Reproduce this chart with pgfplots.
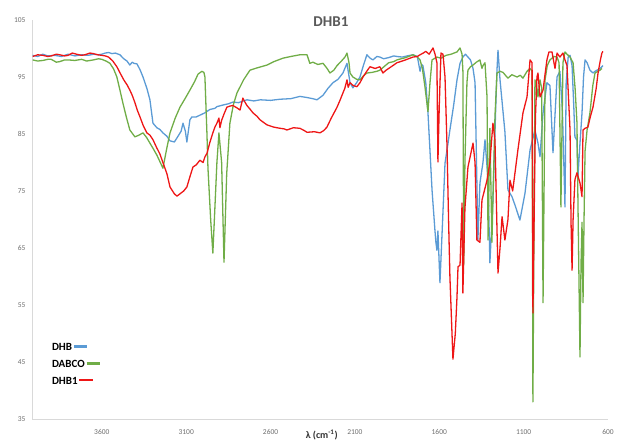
\documentclass[border=0pt]{standalone}
\usepackage{fontspec}
\setmainfont{Carlito}
\usepackage{pgfplots}
\pgfplotsset{compat=1.18}

\definecolor{dhbblue}{RGB}{91,155,213}
\definecolor{dabcogreen}{RGB}{112,173,71}
\definecolor{dhbred}{RGB}{238,22,22}
\definecolor{ticktext}{RGB}{110,110,110}
\definecolor{titletext}{RGB}{89,89,89}

% short coloured bar placed right after each legend text
\newcommand{\keybar}[1]{\,\textcolor{#1}{\rule[0.28em]{13pt}{2.4pt}}}

\begin{document}
\begin{tikzpicture}
\begin{axis}[
  scale only axis,
  width=576pt, height=399pt,
  x dir=reverse,
  xmin=600, xmax=4014,
  ymin=35, ymax=105,
  xtick={600,1100,1600,2100,2600,3100,3600},
  ytick={35,45,55,65,75,85,95,105},
  axis x line*=bottom, axis y line*=left,
  axis line style={draw=gray!30, line width=0.8pt, -},
  major tick length=0pt,
  /pgf/number format/assume math mode=true,
  /pgf/number format/.cd, 1000 sep={}, /pgfplots/.cd,
  tick label style={font=\fontsize{7.5}{8}\selectfont, text=ticktext},
  xticklabel style={yshift=-7pt},
  yticklabel style={xshift=-3pt},
  title={DHB1},
  title style={at={(rel axis cs:0.519,0.98)}, anchor=center,
    font=\fontsize{15}{17}\selectfont\bfseries, text=titletext},
  xlabel={λ (cm\textsuperscript{-1})},
  xlabel style={at={(rel axis cs:0.503,0)}, anchor=center, yshift=-16pt,
    font=\fontsize{10}{12}\selectfont\bfseries, text=black!80},
  legend plot pos=none,
  legend cell align=left,
  legend style={at={(rel axis cs:0.031,0.194)}, anchor=north west, draw=none,
    fill=none, font=\fontsize{11}{13}\selectfont\bfseries, row sep=4pt,
    inner sep=0pt},
  every axis plot/.append style={line width=1.3pt, line join=round},
]
\coordinate (o) at (rel axis cs:0,0);

% DHB
\addplot[color=dhbblue] coordinates {
(4010,98.8) (3980,98.6) (3950,99.0) (3920,98.7) (3880,98.8) (3840,98.6) (3800,99.0)
(3760,98.7) (3720,98.9) (3680,98.8) (3650,99.0) (3620,98.9) (3600,99.0) (3580,99.2)
(3560,99.3) (3540,99.1) (3520,99.2) (3493,98.9) (3470,98.2) (3451,97.8) (3434,97.1)
(3420,97.6) (3410,97.4) (3392,97.3) (3374,96.3) (3356,95.0) (3333,93.0) (3315,91.0)
(3297,86.9) (3274,86.1) (3256,85.8) (3238,85.2) (3214,84.6) (3196,83.8) (3170,83.6)
(3155,84.3) (3130,85.5) (3119,86.9) (3105,85.5) (3096,83.6) (3078,87.5) (3066,88.0)
(3040,88.0) (3019,88.3) (2990,88.7) (2960,89.3) (2930,89.5) (2918,89.8) (2880,90.1)
(2850,90.3) (2823,90.6) (2790,90.5) (2740,91.0) (2700,90.8) (2660,91.0) (2600,90.9)
(2544,91.1) (2480,91.2) (2426,91.6) (2384,91.4) (2350,91.2) (2325,91.0) (2289,91.8)
(2260,93.0) (2230,94.0) (2200,94.6) (2171,95.7) (2147,97.4) (2129,94.0) (2112,93.1)
(2090,94.0) (2070,95.0) (2050,97.0) (2029,98.9) (2010,98.3) (1993,98.0) (1970,98.6)
(1952,98.5) (1930,98.2) (1900,98.4) (1870,98.7) (1851,98.6) (1820,98.5) (1790,98.7)
(1756,98.9) (1730,98.6) (1714,96.0) (1705,97.2) (1697,97.0) (1680,94.0) (1667,88.7)
(1655,82.0) (1643,75.2) (1626,68.2) (1620,66.0) (1614,64.6) (1608,68.0) (1596,58.9)
(1580,70.0) (1566,79.9) (1550,83.0) (1537,85.7) (1515,90.0) (1495,94.5) (1477,97.4)
(1460,98.5) (1445,99.0) (1430,98.5) (1415,98.0) (1400,96.5) (1388,94.0) (1377,76.4)
(1371,66.4) (1359,76.4) (1341,80.0) (1329,84.0) (1311,76.9) (1300,62.4) (1282,73.4)
(1265,90.0) (1258,96.2) (1252,99.7) (1240,94.5) (1211,85.4) (1193,75.2) (1169,74.0)
(1151,72.5) (1122,69.9) (1092,74.6) (1062,82.2) (1033,85.7) (1015,83.4) (1003,81.0)
(985,88.7) (962,94.0) (944,93.5) (926,81.7) (902,95.0) (885,96.0) (870,89.0)
(855,72.2) (848,94.0) (836,98.5) (825,98.8) (813,97.0) (803,90.0) (796,84.5)
(784,83.9) (778,77.5) (766,83.4) (754,88.7) (745,95.0) (736,98.0) (724,97.5)
(707,96.2) (689,95.7) (677,96.0) (659,96.3) (647,96.5) (636,96.8) (630,97.0)
};
\addlegendentry{DHB\keybar{dhbblue}}

% DABCO
\addplot[color=dabcogreen] coordinates {
(4010,98.0) (3980,97.8) (3950,97.9) (3920,98.1) (3900,98.1) (3870,97.6) (3850,97.7)
(3820,98.0) (3800,98.0) (3760,97.9) (3720,98.1) (3690,97.8) (3650,98.0) (3620,98.2)
(3600,98.1) (3575,97.8) (3552,97.4) (3530,96.4) (3511,95.0) (3495,93.0) (3475,90.4)
(3455,88.0) (3434,85.7) (3404,84.5) (3380,84.8) (3356,85.2) (3335,84.4) (3315,83.4)
(3295,82.4) (3274,81.3) (3255,80.1) (3238,79.0) (3215,82.5) (3196,85.2) (3165,87.8)
(3137,89.7) (3105,91.3) (3078,92.7) (3050,94.2) (3030,95.5) (3007,96.0) (2995,95.8)
(2989,95.0) (2977,85.0) (2971,79.0) (2955,70.0) (2942,64.1) (2930,72.0) (2918,80.0)
(2906,85.2) (2890,80.0) (2876,62.5) (2860,78.0) (2841,86.9) (2820,90.2) (2799,92.2)
(2760,94.5) (2722,96.2) (2680,96.6) (2621,97.1) (2580,97.7) (2527,98.3) (2480,98.6)
(2426,98.9) (2384,98.9) (2367,97.4) (2349,97.6) (2320,97.2) (2289,97.4) (2265,96.5)
(2248,95.7) (2225,96.2) (2206,97.0) (2180,97.8) (2159,98.5) (2147,99.2) (2135,97.5)
(2129,95.7) (2112,95.0) (2090,94.6) (2070,94.5) (2050,95.2) (2029,95.7) (2000,95.8)
(1970,96.0) (1952,96.2) (1920,97.0) (1900,97.5) (1870,97.7) (1851,98.0) (1800,98.4)
(1756,98.9) (1730,98.5) (1714,98.0) (1700,96.5) (1685,93.3) (1667,88.9) (1655,94.0)
(1643,98.0) (1614,98.5) (1590,98.3) (1560,98.8) (1530,99.0) (1495,99.4) (1477,100.1)
(1465,99.0) (1460,96.0) (1455,62.0) (1448,80.0) (1436,94.0) (1430,96.2) (1415,96.8)
(1400,97.1) (1380,97.6) (1359,98.0) (1347,96.5) (1341,97.0) (1329,97.5) (1317,91.5)
(1311,66.4) (1300,86.0) (1288,66.0) (1270,88.0) (1258,95.7) (1240,96.0) (1222,95.8)
(1205,95.2) (1193,94.8) (1170,95.4) (1139,95.0) (1120,95.3) (1104,94.8) (1080,96.0)
(1062,96.5) (1050,96.0) (1045,38.0) (1033,94.5) (1021,93.0) (1015,91.5) (1003,94.5)
(993,93.0) (985,55.4) (973,94.5) (960,97.0) (944,98.0) (920,98.6) (902,98.5)
(890,97.5) (879,72.2) (867,97.5) (855,99.4) (843,99.0) (825,98.5) (807,97.5)
(795,93.0) (784,87.0) (778,72.9) (766,45.9) (760,62.0) (754,69.5) (748,55.4)
(742,70.0) (736,82.0) (724,85.7) (707,88.7) (690,93.5) (677,95.7) (660,96.0)
(647,96.2) (636,96.5)
};
\addlegendentry{DABCO\keybar{dabcogreen}}

% DHB1
\addplot[color=dhbred] coordinates {
(4010,98.6) (3980,98.9) (3950,98.8) (3920,98.6) (3900,98.7) (3870,99.0) (3850,98.9)
(3820,98.7) (3800,98.8) (3775,99.2) (3750,99.0) (3720,98.8) (3700,98.9) (3670,99.2)
(3650,99.1) (3625,98.9) (3600,98.8) (3580,98.7) (3560,98.5) (3535,97.8) (3511,96.8)
(3490,95.6) (3470,94.5) (3450,93.6) (3434,92.7) (3420,91.8) (3404,90.5) (3390,89.2)
(3374,88.0) (3355,86.5) (3333,85.2) (3315,84.8) (3297,84.0) (3275,82.6) (3256,81.5)
(3238,80.0) (3214,78.0) (3196,75.7) (3170,74.5) (3155,74.1) (3137,74.5) (3115,75.0)
(3096,75.7) (3078,77.5) (3060,79.2) (3040,79.6) (3019,80.4) (3000,80.0) (2989,81.0)
(2977,81.6) (2960,83.5) (2942,85.2) (2930,86.2) (2918,86.9) (2906,87.8) (2900,86.1)
(2890,87.4) (2876,88.5) (2859,89.7) (2840,89.9) (2823,90.0) (2800,89.6) (2781,89.2)
(2764,91.3) (2752,90.6) (2740,90.0) (2720,89.3) (2704,88.7) (2680,88.1) (2663,87.5)
(2640,87.0) (2621,86.6) (2580,86.2) (2544,86.0) (2520,85.9) (2503,85.7) (2465,86.1)
(2426,86.0) (2400,85.6) (2384,85.3) (2340,85.4) (2307,85.2) (2285,85.6) (2266,86.2)
(2240,87.8) (2206,89.7) (2190,90.8) (2171,92.2) (2160,93.0) (2147,94.5) (2140,93.2)
(2129,94.0) (2110,93.5) (2088,93.3) (2070,94.0) (2052,95.0) (2030,96.0) (2011,96.8)
(1980,96.5) (1952,96.8) (1934,95.7) (1915,96.2) (1900,96.5) (1875,97.0) (1851,97.5)
(1800,98.0) (1756,98.5) (1730,98.6) (1714,98.9) (1695,99.2) (1680,99.5) (1660,99.0)
(1637,100.1) (1625,99.0) (1614,97.5) (1608,80.1) (1600,90.0) (1590,99.2) (1578,99.0)
(1566,95.0) (1554,82.7) (1545,70.0) (1537,60.0) (1519,45.5) (1505,50.0) (1495,56.4)
(1489,61.7) (1477,62.0) (1465,72.9) (1460,57.1) (1448,72.0) (1430,79.2) (1400,83.4)
(1388,80.0) (1377,66.4) (1359,66.0) (1347,73.4) (1317,76.9) (1300,80.0) (1282,86.9)
(1270,84.0) (1252,60.6) (1240,65.0) (1228,70.5) (1211,66.4) (1193,70.0) (1181,76.9)
(1165,75.0) (1134,82.2) (1104,88.7) (1080,91.5) (1062,98.0) (1050,97.5) (1045,53.6)
(1030,88.0) (1021,95.0) (1015,95.7) (1003,91.5) (985,92.7) (973,95.5) (962,98.0)
(950,99.4) (932,99.4) (914,96.5) (902,99.2) (885,98.5) (867,99.2) (855,98.0)
(843,97.0) (825,85.7) (819,69.4) (813,61.1) (807,69.9) (796,77.0) (784,78.2)
(766,76.4) (754,74.0) (748,85.7) (736,86.0) (719,86.2) (705,88.0) (689,89.7)
(670,93.0) (659,95.7) (645,98.0) (636,99.2) (630,99.5)
};
\addlegendentry{DHB1\keybar{dhbred}}
\end{axis}
\pgfresetboundingbox
\path[use as bounding box] (o) ++(-32pt,-23pt) rectangle ++(619pt,442pt);
\end{tikzpicture}
\end{document}
